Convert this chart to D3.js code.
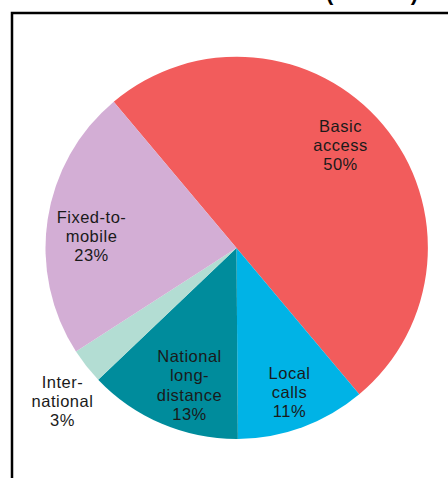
<!DOCTYPE html>
<html>
<head>
<meta charset="utf-8">
<script src="https://cdn.jsdelivr.net/npm/d3@7"></script>
<style>
  body { margin: 0; background: #fff; }
  svg { display: block; font-family: "Liberation Sans", Arial, sans-serif; }
</style>
</head>
<body>
<div id="chart"></div>
<script>
  // slice data, clockwise from the top-left boundary
  const categories = ["Basic access", "Local calls", "National long-distance", "International", "Fixed-to-mobile"];
  const shares = [50, 11, 13, 3, 23];
  const labelLines = [
    ["Basic", "access", "50%"],
    ["Local", "calls", "11%"],
    ["National", "long-", "distance", "13%"],
    ["Inter-", "national", "3%"],
    ["Fixed-to-", "mobile", "23%"]
  ];
  const colors = ["#f25c5c", "#00b3e6", "#008c9c", "#b3ddd3", "#d3aed5"];

  const width = 448, height = 478;
  const cx = 236.5, cy = 248, radius = 191;

  // label centre offsets from the pie centre (layout only)
  const labelOffsets = [[104, -103], [53, 144], [-47, 137], [-174, 153], [-145, -12]];
  const lineHeight = 19.2;

  const svg = d3.select("#chart").append("svg")
    .attr("width", width)
    .attr("height", height);

  // cut-off title fragment at the very top
  svg.append("text")
    .attr("x", 326)
    .attr("y", -0.5)
    .attr("textLength", 92)
    .attr("font-size", 22)
    .attr("font-weight", "bold")
    .attr("fill", "#000")
    .text("(2010)");

  // frame
  svg.append("rect")
    .attr("x", 12)
    .attr("y", 13)
    .attr("width", 460)
    .attr("height", 500)
    .attr("fill", "none")
    .attr("stroke", "#000")
    .attr("stroke-width", 2.5);

  const pie = d3.pie()
    .sort(null)
    .value(d => d)
    .startAngle(-40 * Math.PI / 180)
    .endAngle(320 * Math.PI / 180);

  const arc = d3.arc().innerRadius(0).outerRadius(radius);

  const g = svg.append("g").attr("transform", `translate(${cx},${cy})`);

  g.selectAll("path")
    .data(pie(shares))
    .join("path")
    .attr("d", arc)
    .attr("fill", (d, i) => colors[i]);

  const labels = g.selectAll("text.label")
    .data(labelLines)
    .join("text")
    .attr("class", "label")
    .attr("text-anchor", "middle")
    .attr("font-size", 16.5)
    .attr("letter-spacing", 0.5)
    .attr("fill", "#1a1a1a")
    .attr("transform", (d, i) => `translate(${labelOffsets[i][0]},${labelOffsets[i][1]})`);

  labels.selectAll("tspan")
    .data(d => d.map((t, j) => ({ t, j, n: d.length })))
    .join("tspan")
    .attr("x", 0)
    .attr("y", d => (d.j - (d.n - 1) / 2) * lineHeight + 6)
    .text(d => d.t);
</script>
</body>
</html>
